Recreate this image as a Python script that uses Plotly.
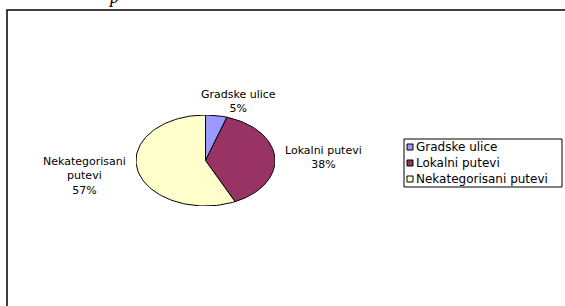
import numpy as np
import plotly.graph_objects as go

categories = ["Gradske ulice", "Lokalni putevi", "Nekategorisani putevi"]
values = [5, 38, 57]
pct_labels = ["5%", "38%", "57%"]
slice_label_text = ["Gradske ulice", "Lokalni putevi", "Nekategorisani<br>putevi"]
colors = ["#9999FF", "#993366", "#FFFFCC"]

W, H = 565, 306
CX0, CX1 = 136, 275   # pie horizontal extent (px)
CY0, CY1 = 115, 206   # pie vertical extent (px)
FONT = "DejaVu Sans, Verdana, Arial"


def px(x):
    return x / W


def py(y):
    return 1 - y / H


fig = go.Figure()

total = sum(values)
start = 90.0
mids = []
for cat, v, col in zip(categories, values, colors):
    sweep = 360.0 * v / total
    th = np.radians(np.linspace(start, start - sweep, 90))
    xs = np.concatenate([[0], np.cos(th), [0]])
    ys = np.concatenate([[0], np.sin(th), [0]])
    fig.add_trace(go.Scatter(
        x=xs, y=ys, mode="lines", fill="toself", fillcolor=col,
        line=dict(color="black", width=1), name=cat, showlegend=False,
        hoverinfo="name", cliponaxis=False,
    ))
    mids.append(np.radians(start - sweep / 2))
    start -= sweep

# slice labels: anchored at the pie edge at each slice's mid angle, shifted (px)
cx, cy = (CX0 + CX1) / 2, (CY0 + CY1) / 2
rx, ry = (CX1 - CX0) / 2, (CY1 - CY0) / 2
label_shift = [(22, -14.5), (49, 0), (-53, 6)]   # (dx, dy) of the text block centre
for lab, pct, m, (dx, dy) in zip(slice_label_text, pct_labels, mids, label_shift):
    ex = cx + rx * np.cos(m)
    ey = cy - ry * np.sin(m)
    fig.add_annotation(
        x=px(ex + dx), y=py(ey + dy), xref="paper", yref="paper",
        text=f"{lab}<br>{pct}", showarrow=False, align="center",
        xanchor="center", yanchor="middle", borderpad=0,
        font=dict(family=FONT, size=11, color="black"),
    )

shapes = []
# chart frame
shapes.append(dict(type="rect", xref="paper", yref="paper",
                   x0=px(7), x1=px(620), y0=py(10), y1=py(360),
                   line=dict(color="black", width=1.5)))
# legend box
LX0, LX1, LY0, LY1 = 404, 562, 139, 187
shapes.append(dict(type="rect", xref="paper", yref="paper",
                   x0=px(LX0), x1=px(LX1), y0=py(LY0), y1=py(LY1),
                   line=dict(color="black", width=1), fillcolor="white"))
row_y = [147, 163, 179]
for cat, col, ryy in zip(categories, colors, row_y):
    shapes.append(dict(type="rect", xref="paper", yref="paper",
                       x0=px(407), x1=px(413), y0=py(ryy - 3), y1=py(ryy + 3),
                       line=dict(color="black", width=1), fillcolor=col))
    fig.add_annotation(
        x=px(415), y=py(ryy), xref="paper", yref="paper", text=cat,
        showarrow=False, xanchor="left", yanchor="middle", borderpad=0,
        font=dict(family=FONT, size=12, color="black"),
    )

# cut-off document text fragment at the top
fig.add_annotation(
    x=px(113), y=py(9), xref="paper", yref="paper", text="<i>p</i>",
    showarrow=False, xanchor="center", yanchor="bottom",
    font=dict(family="Liberation Serif, Times New Roman", size=18, color="black"),
)

fig.update_layout(
    width=W, height=H,
    margin=dict(l=0, r=0, t=0, b=0),
    paper_bgcolor="white", plot_bgcolor="rgba(0,0,0,0)",
    shapes=shapes,
    xaxis=dict(domain=[px(CX0), px(CX1)], range=[-1, 1], visible=False, fixedrange=True),
    yaxis=dict(domain=[py(CY1), py(CY0)], range=[-1, 1], visible=False, fixedrange=True),
    showlegend=False,
)

fig.write_html(
    "out.html",
    config={"displayModeBar": False},
    post_script="document.body.style.margin='0px';document.body.style.overflow='hidden';",
)
